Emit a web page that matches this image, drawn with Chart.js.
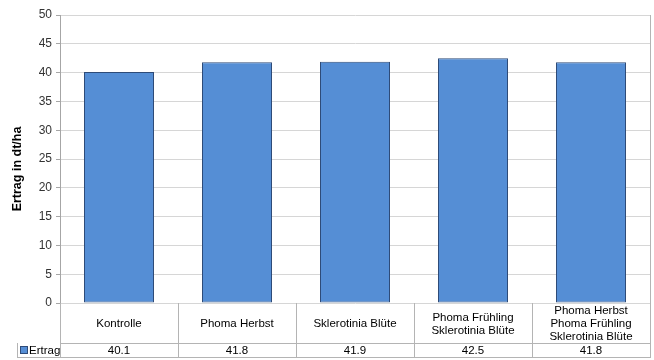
<!DOCTYPE html>
<html>
<head>
<meta charset="utf-8">
<script src="https://cdn.jsdelivr.net/npm/chart.js@4"></script>
<style>
html,body{margin:0;padding:0;background:#fff;}
#wrap{width:654px;height:360px;position:relative;}
</style>
</head>
<body>
<div id="wrap"><canvas id="c" width="654" height="360"></canvas></div>
<script>
const categories = [
  ["Kontrolle"],
  ["Phoma Herbst"],
  ["Sklerotinia Blüte"],
  ["Phoma Frühling", "Sklerotinia Blüte"],
  ["Phoma Herbst", "Phoma Frühling", "Sklerotinia Blüte"]
];
const seriesName = "Ertrag";
const ertrag = [40.1, 41.8, 41.9, 42.5, 41.8];
const valueLabels = ["40.1", "41.8", "41.9", "42.5", "41.8"];
const yTitle = "Ertrag in dt/ha";

const FONT = "'Liberation Sans', Arial, sans-serif";
const BAR = "#558ED5";
const BAR_BORDER = "#2E4B78";
const LINE = "#b4b4b4";

const tablePlugin = {
  id: 'dataTable',
  afterDraw(chart) {
    const ctx = chart.ctx;
    const x = chart.scales.x;
    const area = chart.chartArea;
    const n = categories.length;
    const step = x.getPixelForValue(1) - x.getPixelForValue(0);
    const left = area.left, right = area.right + 1;
    const top = area.bottom;
    const mid = top + 40;
    const bottom = mid + 14;
    const legLeft = 17;
    ctx.save();
    ctx.strokeStyle = LINE;
    ctx.lineWidth = 1;
    const hl = (x1, x2, y) => { ctx.beginPath(); ctx.moveTo(x1, y + 0.5); ctx.lineTo(x2, y + 0.5); ctx.stroke(); };
    const vl = (xx, y1, y2) => { ctx.beginPath(); ctx.moveTo(Math.round(xx) + 0.5, y1); ctx.lineTo(Math.round(xx) + 0.5, y2); ctx.stroke(); };
    vl(area.right, area.top, top);
    hl(left, right, mid);
    hl(legLeft, right, bottom);
    vl(legLeft, mid, bottom + 1);
    vl(left, top, bottom + 1);
    for (let i = 0; i < n; i++) {
      const c = x.getPixelForValue(i);
      vl(c + step / 2, top, bottom + 1);
    }
    ctx.fillStyle = "#000";
    ctx.font = "11.5px " + FONT;
    ctx.textAlign = "center";
    ctx.textBaseline = "middle";
    const lh = 13;
    for (let i = 0; i < n; i++) {
      const c = x.getPixelForValue(i);
      const lines = categories[i];
      const y0 = (top + mid) / 2 - (lines.length - 1) * lh / 2 + 1;
      lines.forEach((t, k) => ctx.fillText(t, c, y0 + k * lh));
      ctx.fillText(valueLabels[i], c, (mid + bottom) / 2 + 1);
    }
    ctx.fillStyle = BAR;
    ctx.fillRect(21, mid + 4, 6, 6);
    ctx.strokeStyle = BAR_BORDER;
    ctx.strokeRect(20.5, mid + 3.5, 7, 7);
    ctx.fillStyle = "#000";
    ctx.textAlign = "left";
    ctx.fillText(seriesName, 29, (mid + bottom) / 2 + 1);
    ctx.save();
    ctx.translate(18, 169);
    ctx.rotate(-Math.PI / 2);
    ctx.textAlign = "center";
    ctx.textBaseline = "middle";
    ctx.font = "bold 12.5px " + FONT;
    ctx.fillStyle = "#000";
    ctx.fillText(yTitle, 0, 0);
    ctx.restore();
    ctx.restore();
  }
};

new Chart(document.getElementById('c'), {
  type: 'bar',
  data: {
    labels: categories,
    datasets: [{
      label: seriesName,
      data: ertrag,
      backgroundColor: BAR,
      borderColor: BAR_BORDER,
      borderWidth: 1,
      borderSkipped: false,
      categoryPercentage: 1,
      barPercentage: 70 / 118
    }]
  },
  options: {
    responsive: false,
    animation: false,
    devicePixelRatio: 1,
    layout: { padding: { left: 0, right: 4, top: 15, bottom: 57 } },
    plugins: { legend: { display: false }, tooltip: { enabled: false } },
    scales: {
      x: {
        display: false,
        offset: true
      },
      y: {
        min: 0, max: 50,
        ticks: { stepSize: 5, color: "#333", font: { family: FONT, size: 12 }, padding: 4 },
        grid: { color: "#d6d6d6", tickLength: 4, tickColor: "#a6a6a6" },
        border: { color: "#a6a6a6" },
        afterFit(s) { s.width = 60; }
      }
    }
  },
  plugins: [tablePlugin]
});
</script>
</body>
</html>
